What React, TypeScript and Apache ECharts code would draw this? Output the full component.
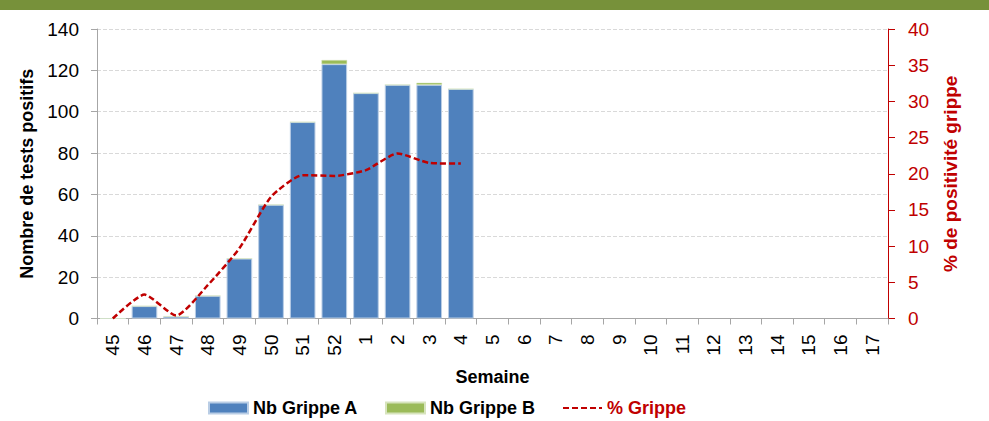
import React, { useEffect, useRef } from "react";
import * as echarts from "echarts";

const weeks = ["45", "46", "47", "48", "49", "50", "51", "52", "1", "2", "3", "4", "5", "6", "7", "8", "9", "10", "11", "12", "13", "14", "15", "16", "17"];
const grippeA: (number | null)[] = [0, 6, 1, 11, 29, 55, 95, 123, 109, 113, 113, 111, null, null, null, null, null, null, null, null, null, null, null, null, null];
const grippeB: (number | null)[] = [0, 0, 0, 0, 0, 0, 0, 2, 0, 0, 1, 0, null, null, null, null, null, null, null, null, null, null, null, null, null];
const pctGrippe: (number | null)[] = [0, 3.3, 0.4, 4.6, 9.7, 16.8, 19.8, 19.7, 20.5, 22.8, 21.5, 21.4, null, null, null, null, null, null, null, null, null, null, null, null, null];
const leftTicks = { min: 0, max: 140, interval: 20 };
const rightTicks = { min: 0, max: 40, interval: 5 };

const FONT = "'Liberation Sans', Arial, sans-serif";
const RED = "#C00000";

export default function App() {
  const ref = useRef<HTMLDivElement>(null);
  useEffect(() => {
    if (!ref.current) return;
    const chart = echarts.init(ref.current, null, { renderer: "svg" });
    chart.setOption({
      animation: false,
      backgroundColor: "#ffffff",
      textStyle: { fontFamily: FONT },
      graphic: [
        { type: "rect", left: 0, top: 0, shape: { x: 0, y: 0, width: 989, height: 10 }, style: { fill: "#77913A" }, silent: true },
      ],
      grid: { left: 97, right: 101, top: 29, bottom: 102.5 },
      legend: {
        left: 203,
        top: 394,
        itemWidth: 39,
        itemHeight: 11,
        itemGap: 27,
        textStyle: { fontFamily: FONT, fontSize: 18, fontWeight: "bold", color: "#000" },
        data: [
          { name: "Nb Grippe A", icon: "rect" },
          { name: "Nb Grippe B", icon: "rect" },
          { name: "% Grippe", textStyle: { color: RED }, itemStyle: { opacity: 0, borderWidth: 0 } },
        ],
      },
      xAxis: {
        type: "category",
        data: weeks,
        boundaryGap: true,
        name: "Semaine",
        nameLocation: "middle",
        nameGap: 49,
        nameTextStyle: { fontFamily: FONT, fontSize: 18, fontWeight: "bold", color: "#000" },
        axisLine: { lineStyle: { color: "#A6A6A6", width: 1 } },
        axisTick: { show: true, interval: 0, length: 6, lineStyle: { color: "#A6A6A6" } },
        axisLabel: { interval: 0, rotate: 90, margin: 16, fontSize: 19, color: "#000", fontFamily: FONT },
      },
      yAxis: [
        {
          type: "value",
          ...leftTicks,
          name: "Nombre de tests positifs",
          nameLocation: "middle",
          nameRotate: 90,
          nameGap: 58,
          nameTextStyle: { fontFamily: FONT, fontSize: 18, fontWeight: "bold", color: "#000" },
          axisLine: { show: true, lineStyle: { color: "#A6A6A6", width: 1 } },
          axisTick: { show: true, length: 6, lineStyle: { color: "#A6A6A6" } },
          axisLabel: { fontSize: 19, color: "#000", margin: 18, fontFamily: FONT },
          splitLine: { show: true, lineStyle: { color: "#D9D9D9", type: [4, 2], width: 1 } },
        },
        {
          type: "value",
          position: "right",
          ...rightTicks,
          name: "% de positivité grippe",
          nameLocation: "middle",
          nameRotate: 90,
          nameGap: 53,
          nameTextStyle: { fontFamily: FONT, fontSize: 19, fontWeight: "bold", color: RED },
          axisLine: { show: true, lineStyle: { color: RED, width: 1 } },
          axisTick: { show: true, length: 7, lineStyle: { color: RED } },
          axisLabel: { fontSize: 19, color: RED, margin: 20, fontFamily: FONT },
          splitLine: { show: false },
        },
      ],
      series: [
        {
          name: "Nb Grippe A",
          type: "bar",
          stack: "total",
          data: grippeA,
          barCategoryGap: "19%",
          itemStyle: { color: "#4F81BD", borderColor: "#B9CDE5", borderWidth: 1 },
        },
        {
          name: "Nb Grippe B",
          type: "bar",
          stack: "total",
          data: grippeB,
          barCategoryGap: "19%",
          itemStyle: { color: "#9BBB59", borderColor: "#D7E4BD", borderWidth: 0.5 },
        },
        {
          name: "% Grippe",
          type: "line",
          yAxisIndex: 1,
          data: pctGrippe,
          smooth: 0.2,
          showSymbol: false,
          symbol: "none",
          lineStyle: { color: RED, width: 2.5, type: [6, 3] },
          itemStyle: { color: RED },
        },
      ],
    });
    return () => chart.dispose();
  }, []);
  return <div ref={ref} style={{ position: "fixed", left: 0, top: 0, width: 989, height: 421 }} />;
}
